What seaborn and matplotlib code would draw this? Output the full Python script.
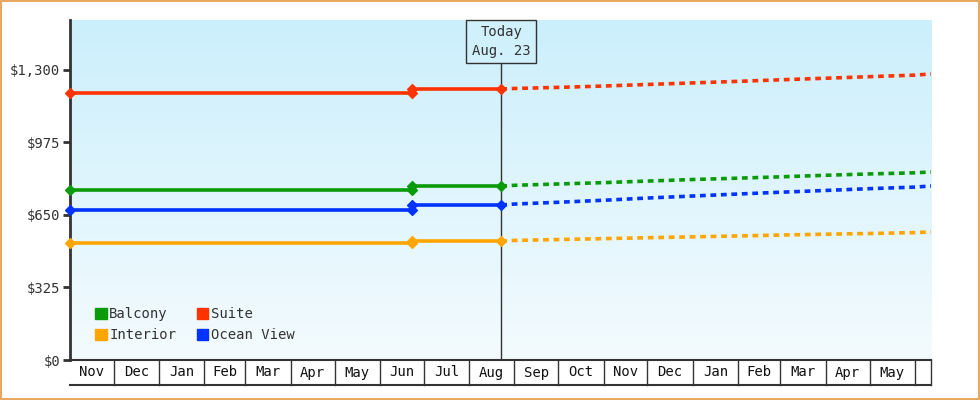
import numpy as np
import pandas as pd
import matplotlib
matplotlib.use("Agg")
import matplotlib.pyplot as plt
import matplotlib.transforms as mtrans
from matplotlib.colors import LinearSegmentedColormap
from matplotlib.patches import Patch
import seaborn as sns

series = ["Balcony", "Suite", "Interior", "Ocean View"]
colors = {"Balcony": "#0a9a0a", "Suite": "#ff3300", "Interior": "#ffa500", "Ocean View": "#0033ff"}
actual_dates = ["2022-11-01", "2023-06-23", "2023-06-23", "2023-08-23"]
actual = {
    "Balcony": [762, 762, 780, 780],
    "Suite": [1195, 1195, 1215, 1215],
    "Interior": [524, 524, 533, 533],
    "Ocean View": [672, 672, 695, 695],
}
forecast_dates = ["2023-08-23", "2023-09-01", "2023-10-01", "2023-11-01", "2023-12-01", "2024-01-01",
                  "2024-02-01", "2024-03-01", "2024-04-01", "2024-05-01", "2024-06-01", "2024-06-12"]
forecast = {
    "Balcony": [780, 783, 789, 795, 802, 809, 815, 821, 828, 834, 839, 843],
    "Suite": [1215, 1217, 1222, 1228, 1235, 1242, 1249, 1256, 1263, 1270, 1277, 1282],
    "Interior": [533, 536, 540, 544, 548, 552, 556, 560, 564, 567, 571, 574],
    "Ocean View": [695, 699, 707, 716, 726, 735, 744, 752, 760, 768, 775, 780],
}
month_starts = pd.date_range("2022-11-01", "2024-06-01", freq="MS")
yticks = [0, 325, 650, 975, 1300]
today = "2023-08-23"

font = "DejaVu Sans Mono"
plt.rcParams["font.family"] = font
fig = plt.figure(figsize=(9.8, 4), dpi=100)
fig.patch.set_facecolor("white")
ax = fig.add_axes([70/980, 40/400, 861/980, 340/400])

grad = np.linspace(0, 1, 256).reshape(-1, 1)
cm = LinearSegmentedColormap.from_list("g", ["#f4fbfe", "#cbeffc"])
ax.imshow(grad, extent=[0, 1, 0, 1], transform=ax.transAxes, cmap=cm, origin="lower",
          aspect="auto", zorder=0)

ad = pd.to_datetime(actual_dates)
fd = pd.to_datetime(forecast_dates)
for s in series:
    sns.lineplot(x=ad, y=actual[s], ax=ax, color=colors[s], lw=2.6, estimator=None, sort=False, zorder=3)
    sns.lineplot(x=fd, y=forecast[s], ax=ax, color=colors[s], lw=2.6, estimator=None, sort=False,
                 linestyle=(0, (1.6, 1.3)), zorder=3)
    ax.scatter(ad, actual[s], color=colors[s], marker="D", s=25, zorder=4, clip_on=False)

ax.set_xlim(pd.Timestamp("2022-11-01"), fd[-1])
ax.set_ylim(0, 1524)
ax.set_yticks(yticks)
ax.set_yticklabels([f"${v:,}" for v in yticks], fontsize=10, color="#333")
ax.tick_params(axis="y", length=5, width=2, color="#333", pad=2)
ax.set_xticks([])
ax.set_xlabel(""); ax.set_ylabel("")
for sp in ["top", "right"]:
    ax.spines[sp].set_visible(False)
ax.spines["left"].set_linewidth(2); ax.spines["left"].set_color("#333")
ax.spines["bottom"].set_linewidth(1.5); ax.spines["bottom"].set_color("#333")

tr = mtrans.blended_transform_factory(ax.transData, ax.transAxes)
cell_h = 25/340
bounds = list(month_starts) + [fd[-1]]
for b in bounds[1:]:
    ax.plot([b, b], [0, -cell_h], transform=tr, color="#333", lw=1, clip_on=False)
ax.plot([bounds[0], bounds[-1]], [-cell_h, -cell_h], transform=tr, color="#333", lw=1.5, clip_on=False)
for i in range(len(month_starts)):
    mid = bounds[i] + (bounds[i+1] - bounds[i]) / 2
    if (bounds[i+1] - bounds[i]).days > 20:
        ax.text(mid, -cell_h/2, month_starts[i].strftime("%b"), transform=tr, ha="center",
                va="center", fontsize=10, color="#111")

td = pd.Timestamp(today)
ax.axvline(td, color="#333", lw=1, zorder=2)
ax.text(td, 0.985, "Today\nAug. 23", transform=tr, ha="center", va="top", fontsize=10, color="#333",
        linespacing=1.4, bbox=dict(boxstyle="square,pad=0.4", fc="#d0f0fb", ec="#333", lw=1), zorder=5)

order = ["Balcony", "Interior", "Suite", "Ocean View"]
handles = [Patch(color=colors[s], label=s) for s in order]
ax.legend(handles=handles, loc="lower left", ncol=2, frameon=False, fontsize=10,
          handlelength=0.8, handleheight=0.8, handletextpad=0.2, columnspacing=1.5,
          labelspacing=0.5, bbox_to_anchor=(0.015, 0.015), labelcolor="#333")

fig.add_artist(plt.Rectangle((0.001, 0.002), 0.998, 0.996, transform=fig.transFigure,
                             fill=False, ec="#e8a860", lw=1.5))
fig.savefig("out.png", dpi=100)
